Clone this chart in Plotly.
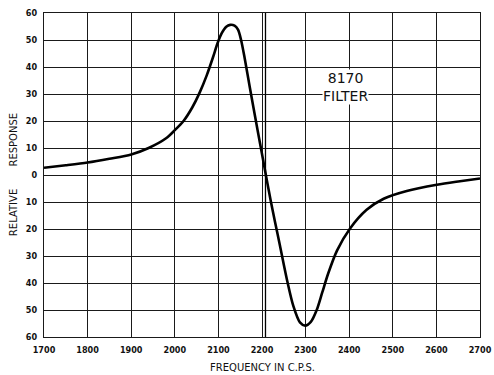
import plotly.graph_objects as go

# Data
freq = [1700, 1750, 1800, 1850, 1900, 1940, 1980, 2000, 2020, 2040, 2057, 2073, 2088,
        2098, 2108, 2118, 2127, 2137, 2145, 2152, 2160, 2172, 2190, 2200, 2210, 2220,
        2230, 2241, 2257, 2272, 2287, 2299, 2312, 2325, 2338, 2352, 2372, 2402, 2440,
        2479, 2532, 2601, 2650, 2700]
response = [2.7, 3.6, 4.6, 6.0, 7.6, 10.0, 13.6, 16.6, 20.0, 25.0, 30.5, 36.8, 43.8,
            48.8, 52.6, 54.9, 55.6, 55.3, 53.8, 50.0, 43.5, 32.5, 16.5, 7.8, -1.0, -9.5,
            -17.5, -26.0, -38.6, -48.6, -54.6, -55.8, -54.4, -50.2, -43.6, -36.4, -28.0, -19.8, -12.9,
            -8.8, -5.9, -3.6, -2.4, -1.3]

x_ticks = [1700, 1800, 1900, 2000, 2100, 2200, 2300, 2400, 2500, 2600, 2700]
y_ticks = [60, 50, 40, 30, 20, 10, 0, -10, -20, -30, -40, -50, -60]
y_tick_labels = ["60", "50", "40", "30", "20", "10", "0", "10", "20", "30", "40", "50", "60"]
crossover_freq = 2208
label_freq, label_resp = 2392, 32.5

fig = go.Figure()
fig.add_trace(go.Scatter(x=freq, y=response, mode="lines",
                         line=dict(color="black", width=2.6, shape="spline", smoothing=0.8),
                         hoverinfo="skip", showlegend=False))

fig.add_shape(type="line", x0=crossover_freq, x1=crossover_freq, y0=-60, y1=60,
              xref="x", yref="y", line=dict(color="black", width=1.3))

fig.add_annotation(x=label_freq, y=label_resp, text="8170<br>FILTER", showarrow=False,
                   font=dict(family="DejaVu Sans", size=14, color="#111"),
                   bgcolor="white", borderpad=0, align="center")

fig.add_annotation(xref="paper", yref="paper", x=-0.088, y=0.5, text="RELATIVE       RESPONSE",
                   textangle=-90, showarrow=False,
                   font=dict(family="DejaVu Sans", size=10, color="#111"))

fig.add_annotation(xref="paper", yref="paper", x=0.5, y=-0.095, yanchor="middle",
                   text="FREQUENCY IN C.P.S.", showarrow=False,
                   font=dict(family="DejaVu Sans", size=10, color="#111"))

tickfont = dict(family="DejaVu Sans Condensed, DejaVu Sans", size=9, color="#111", weight="bold")
fig.update_xaxes(range=[1700, 2700], tickvals=x_ticks, ticktext=[str(v) for v in x_ticks],
                 showgrid=True, gridcolor="#1a1a1a", gridwidth=1, automargin=False,
                 showline=True, linecolor="#1a1a1a", linewidth=1.2, mirror=True,
                 zeroline=False, ticks="", tickfont=tickfont, ticklabelstandoff=4)
fig.update_yaxes(range=[-60, 60], tickvals=y_ticks, ticktext=y_tick_labels,
                 showgrid=True, gridcolor="#1a1a1a", gridwidth=1, automargin=False,
                 showline=True, linecolor="#1a1a1a", linewidth=1.2, mirror=True,
                 zeroline=False, ticks="", tickfont=tickfont, ticklabelstandoff=4)

fig.update_layout(width=494, height=375,
                  margin=dict(l=44, r=14, t=13, b=38, autoexpand=False),
                  plot_bgcolor="white", paper_bgcolor="white")

fig.write_html("out.html")
